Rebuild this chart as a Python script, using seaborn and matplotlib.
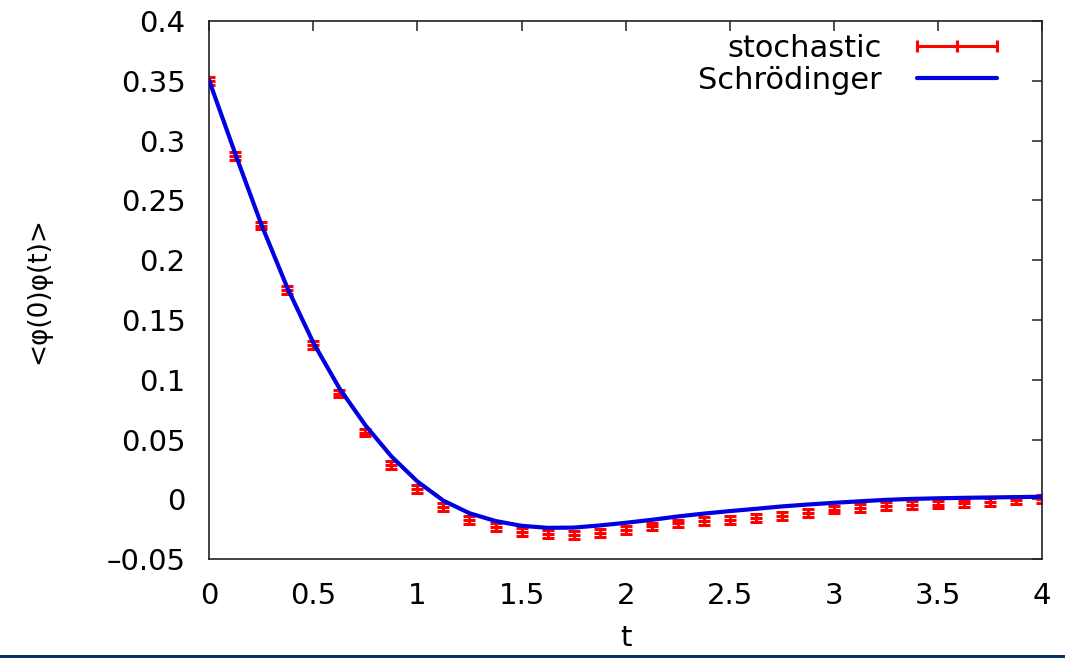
import numpy as np
import matplotlib
matplotlib.use("Agg")
import matplotlib.pyplot as plt
import matplotlib.ticker as mticker
from matplotlib.lines import Line2D
from matplotlib.patches import Rectangle
import seaborn as sns

# time grid (both curves sampled every 0.125)
t = np.arange(33) * 0.125

# stochastic estimate of <phi(0)phi(t)>
stochastic = [0.350, 0.287, 0.229, 0.175, 0.129, 0.0885, 0.056, 0.029,
              0.009, -0.0065, -0.017, -0.0228, -0.0272, -0.029, -0.0298,
              -0.028, -0.0256, -0.0225, -0.020, -0.018, -0.017, -0.0156,
              -0.0136, -0.0114, -0.0085, -0.007, -0.0056, -0.0047, -0.0042,
              -0.0033, -0.0022, -0.0008, 0.0006]
stoch_err = [0.0032] * 33

# Schroedinger reference curve
schroedinger = [0.350, 0.289, 0.230, 0.177, 0.131, 0.093, 0.062, 0.036,
                0.015, -0.001, -0.0115, -0.018, -0.022, -0.0237, -0.0235,
                -0.0217, -0.0195, -0.017, -0.0142, -0.0118, -0.0097, -0.0078,
                -0.0058, -0.0042, -0.0028, -0.0015, -0.0003, 0.0005, 0.001,
                0.0014, 0.0017, 0.002, 0.0023]

sns.set_theme(style="white")
plt.rcParams["font.family"] = ["DejaVu Sans"]
plt.rcParams["text.color"] = "black"
plt.rcParams["axes.labelcolor"] = "black"

fig = plt.figure(figsize=(10.65, 6.58), dpi=100)
ax = fig.add_axes([0.1965, 0.150, 0.7819, 0.818])

ax.errorbar(t, stochastic, yerr=stoch_err, fmt="_", color="#ff0000",
            markersize=9, mew=2.2, elinewidth=2.2, capsize=4.5, capthick=2.2,
            zorder=2)
sns.lineplot(x=t, y=schroedinger, color="#0000e0", lw=3, ax=ax, zorder=3)

ax.set_xlim(0, 4)
ax.set_ylim(-0.05, 0.4)
ax.xaxis.set_major_locator(mticker.MultipleLocator(0.5))
ax.yaxis.set_major_locator(mticker.MultipleLocator(0.05))
ax.xaxis.set_major_formatter(mticker.FormatStrFormatter("%g"))
ax.yaxis.set_major_formatter(mticker.FuncFormatter(
    lambda v, p: ("%g" % round(v, 3)).replace("-", "\u2013")))

for s in ax.spines.values():
    s.set_visible(True)
    s.set_color("#222222")
    s.set_linewidth(1.2)

ax.tick_params(direction="in", length=7, width=1.1, color="#222222",
               top=True, right=True, labelsize=21, labelcolor="black")
ax.tick_params(axis="x", pad=16)
ax.tick_params(axis="y", pad=17)

ax.set_xlabel("t", fontsize=21)
ax.xaxis.set_label_coords(0.5, -0.12)
ax.set_ylabel("<\u03c6(0)\u03c6(t)>", fontsize=19)
ax.yaxis.set_label_coords(-0.19, 0.5)

handles = [Line2D([], [], color="#ff0000", lw=2.2, marker="|", markersize=9,
                  mew=2.2),
           Line2D([], [], color="#0000e0", lw=3)]
ax.legend(handles, ["stochastic", "Schr\u00f6dinger"], loc="upper right",
          bbox_to_anchor=(0.986, 1.022), frameon=False, markerfirst=False,
          numpoints=3, fontsize=22, handlelength=3.2, handletextpad=0.85,
          labelspacing=0.1, borderpad=0.3)

# thin navy strip along the bottom edge
fig.patches.append(Rectangle((0, 0), 1, 3 / 658, transform=fig.transFigure,
                             facecolor="#0b3266", edgecolor="none"))

fig.savefig("out.png", dpi=100)
